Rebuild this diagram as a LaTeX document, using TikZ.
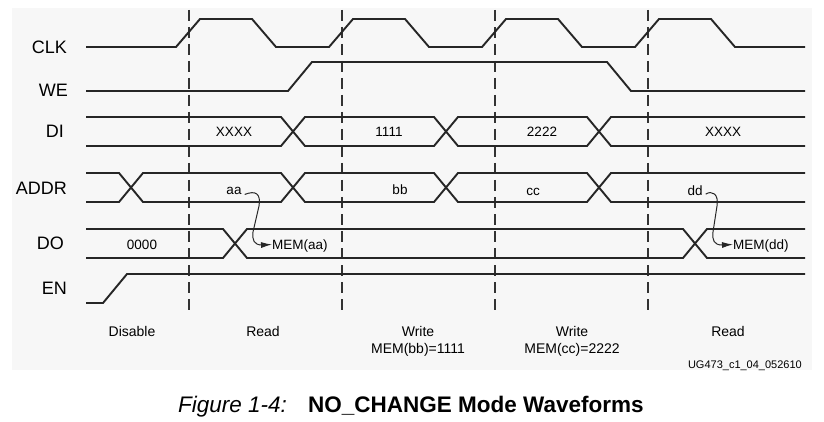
\documentclass[tikz,border=0pt]{standalone}
\usepackage{fontspec}
\setmainfont{Liberation Sans}
\usetikzlibrary{arrows.meta}
\begin{document}
\begin{tikzpicture}[x=1pt,y=-1pt,
  wave/.style={line width=1.9pt,draw=black!85,line join=miter},
  guide/.style={line width=1.1pt,draw=black!80,dash pattern=on 11pt off 6pt},
  hook/.style={line width=1pt,draw=black!85,-{Latex[length=11pt,width=6pt]}},
  sig/.style={anchor=east,inner sep=0pt,font=\fontsize{18}{20}\selectfont},
  val/.style={anchor=base,inner sep=0pt,font=\fontsize{13.5}{15}\selectfont},
  mode/.style={anchor=base,inner sep=0pt,font=\fontsize{14}{16}\selectfont},
  note/.style={inner sep=0pt,font=\fontsize{11}{13}\selectfont},
  captxt/.style={inner sep=0pt,anchor=base west,font=\fontsize{22.5}{25}\selectfont}]
\useasboundingbox (0,0) rectangle (824,422);
\fill[black!3] (12,8) rectangle (812,370);
% guide lines
\foreach \gx in {189,342,495,648} \draw[guide] (\gx,10) -- (\gx,312);
% signal labels
\node[sig] (lclk) at (67,47) {CLK};
\node[sig] (lwe) at (68,90) {WE};
\node[sig] (ldi) at (64,131) {DI};
\node[sig] (laddr) at (67,188) {ADDR};
\node[sig] (ldo) at (64,243) {DO};
\node[sig] (len) at (67,288) {EN};
% CLK
\draw[wave] (86,47) -- (176,47) -- (200,19) -- (252,19) -- (276,47) -- (329,47) -- (353,19) -- (405,19) -- (429,47) -- (482,47) -- (506,19) -- (558,19) -- (582,47) -- (635,47) -- (659,19) -- (711,19) -- (735,47) -- (805,47);
% WE
\draw[wave] (86,91) -- (288,91) -- (312,62) -- (607,62) -- (631,91) -- (805,91);
% DI
\draw[wave] (86,117) -- (281,117) -- (305,146) -- (434,146) -- (458,117) -- (587,117) -- (611,146) -- (805,146);
\draw[wave] (86,146) -- (281,146) -- (305,117) -- (434,117) -- (458,146) -- (587,146) -- (611,117) -- (805,117);
% ADDR
\draw[wave] (86,173) -- (119,173) -- (143,202) -- (281,202) -- (305,173) -- (434,173) -- (458,202) -- (587,202) -- (611,173) -- (805,173);
\draw[wave] (86,202) -- (119,202) -- (143,173) -- (281,173) -- (305,202) -- (434,202) -- (458,173) -- (587,173) -- (611,202) -- (805,202);
% DO
\draw[wave] (86,229) -- (223,229) -- (247,258) -- (683,258) -- (707,229) -- (805,229);
\draw[wave] (86,258) -- (223,258) -- (247,229) -- (683,229) -- (707,258) -- (805,258);
% EN
\draw[wave] (86,303) -- (103,303) -- (127,274) -- (805,274);
% values
\node[val] (x1) at (234,137) {XXXX};
\node[val] (v1) at (389,137) {1111};
\node[val] (v2) at (542,137) {2222};
\node[val] (x2) at (723,137) {XXXX};
\node[val] (aa) at (234,195) {aa};
\node[val] (bb) at (400,194) {bb};
\node[val] (cc) at (533,196) {cc};
\node[val] (dd) at (695,196) {dd};
\node[val] (d0) at (142,249) {0000};
\node[val,anchor=base west] (memaa) at (272,249) {MEM(aa)};
\node[val,anchor=base west] (memdd) at (733,249) {MEM(dd)};
% hooks
\draw[hook] ([xshift=3pt,yshift=-3pt]aa.east) .. controls (256,190) and (261,194) .. (259,206) -- (253,232) .. controls (252,240) and (254,245) .. (262,245) -- ([yshift=4.5pt]memaa.base west);
\draw[hook] ([xshift=3pt,yshift=-3pt]dd.east) .. controls (712,190) and (719,194) .. (717,206) -- (713,232) .. controls (712,240) and (714,245) .. (722,245) -- ([yshift=4.5pt]memdd.base west);
% modes
\node[mode] (m1) at (132,336) {Disable};
\node[mode] (m2) at (263,336) {Read};
\node[mode] (m3) at (418,336) {Write};
\node[mode] (m3b) at (418,353) {MEM(bb)=1111};
\node[mode] (m4) at (572,336) {Write};
\node[mode] (m4b) at (572,353) {MEM(cc)=2222};
\node[mode] (m5) at (728,336) {Read};
\node[note,anchor=base east] (ug) at (802,368) {UG473\_c1\_04\_052610};
% caption
\node[captxt] (fig) at (178,412) {\itshape Figure 1-4:};
\node[captxt] (title) at (308,412) {\bfseries NO\_CHANGE Mode Waveforms};
\end{tikzpicture}
\end{document}
